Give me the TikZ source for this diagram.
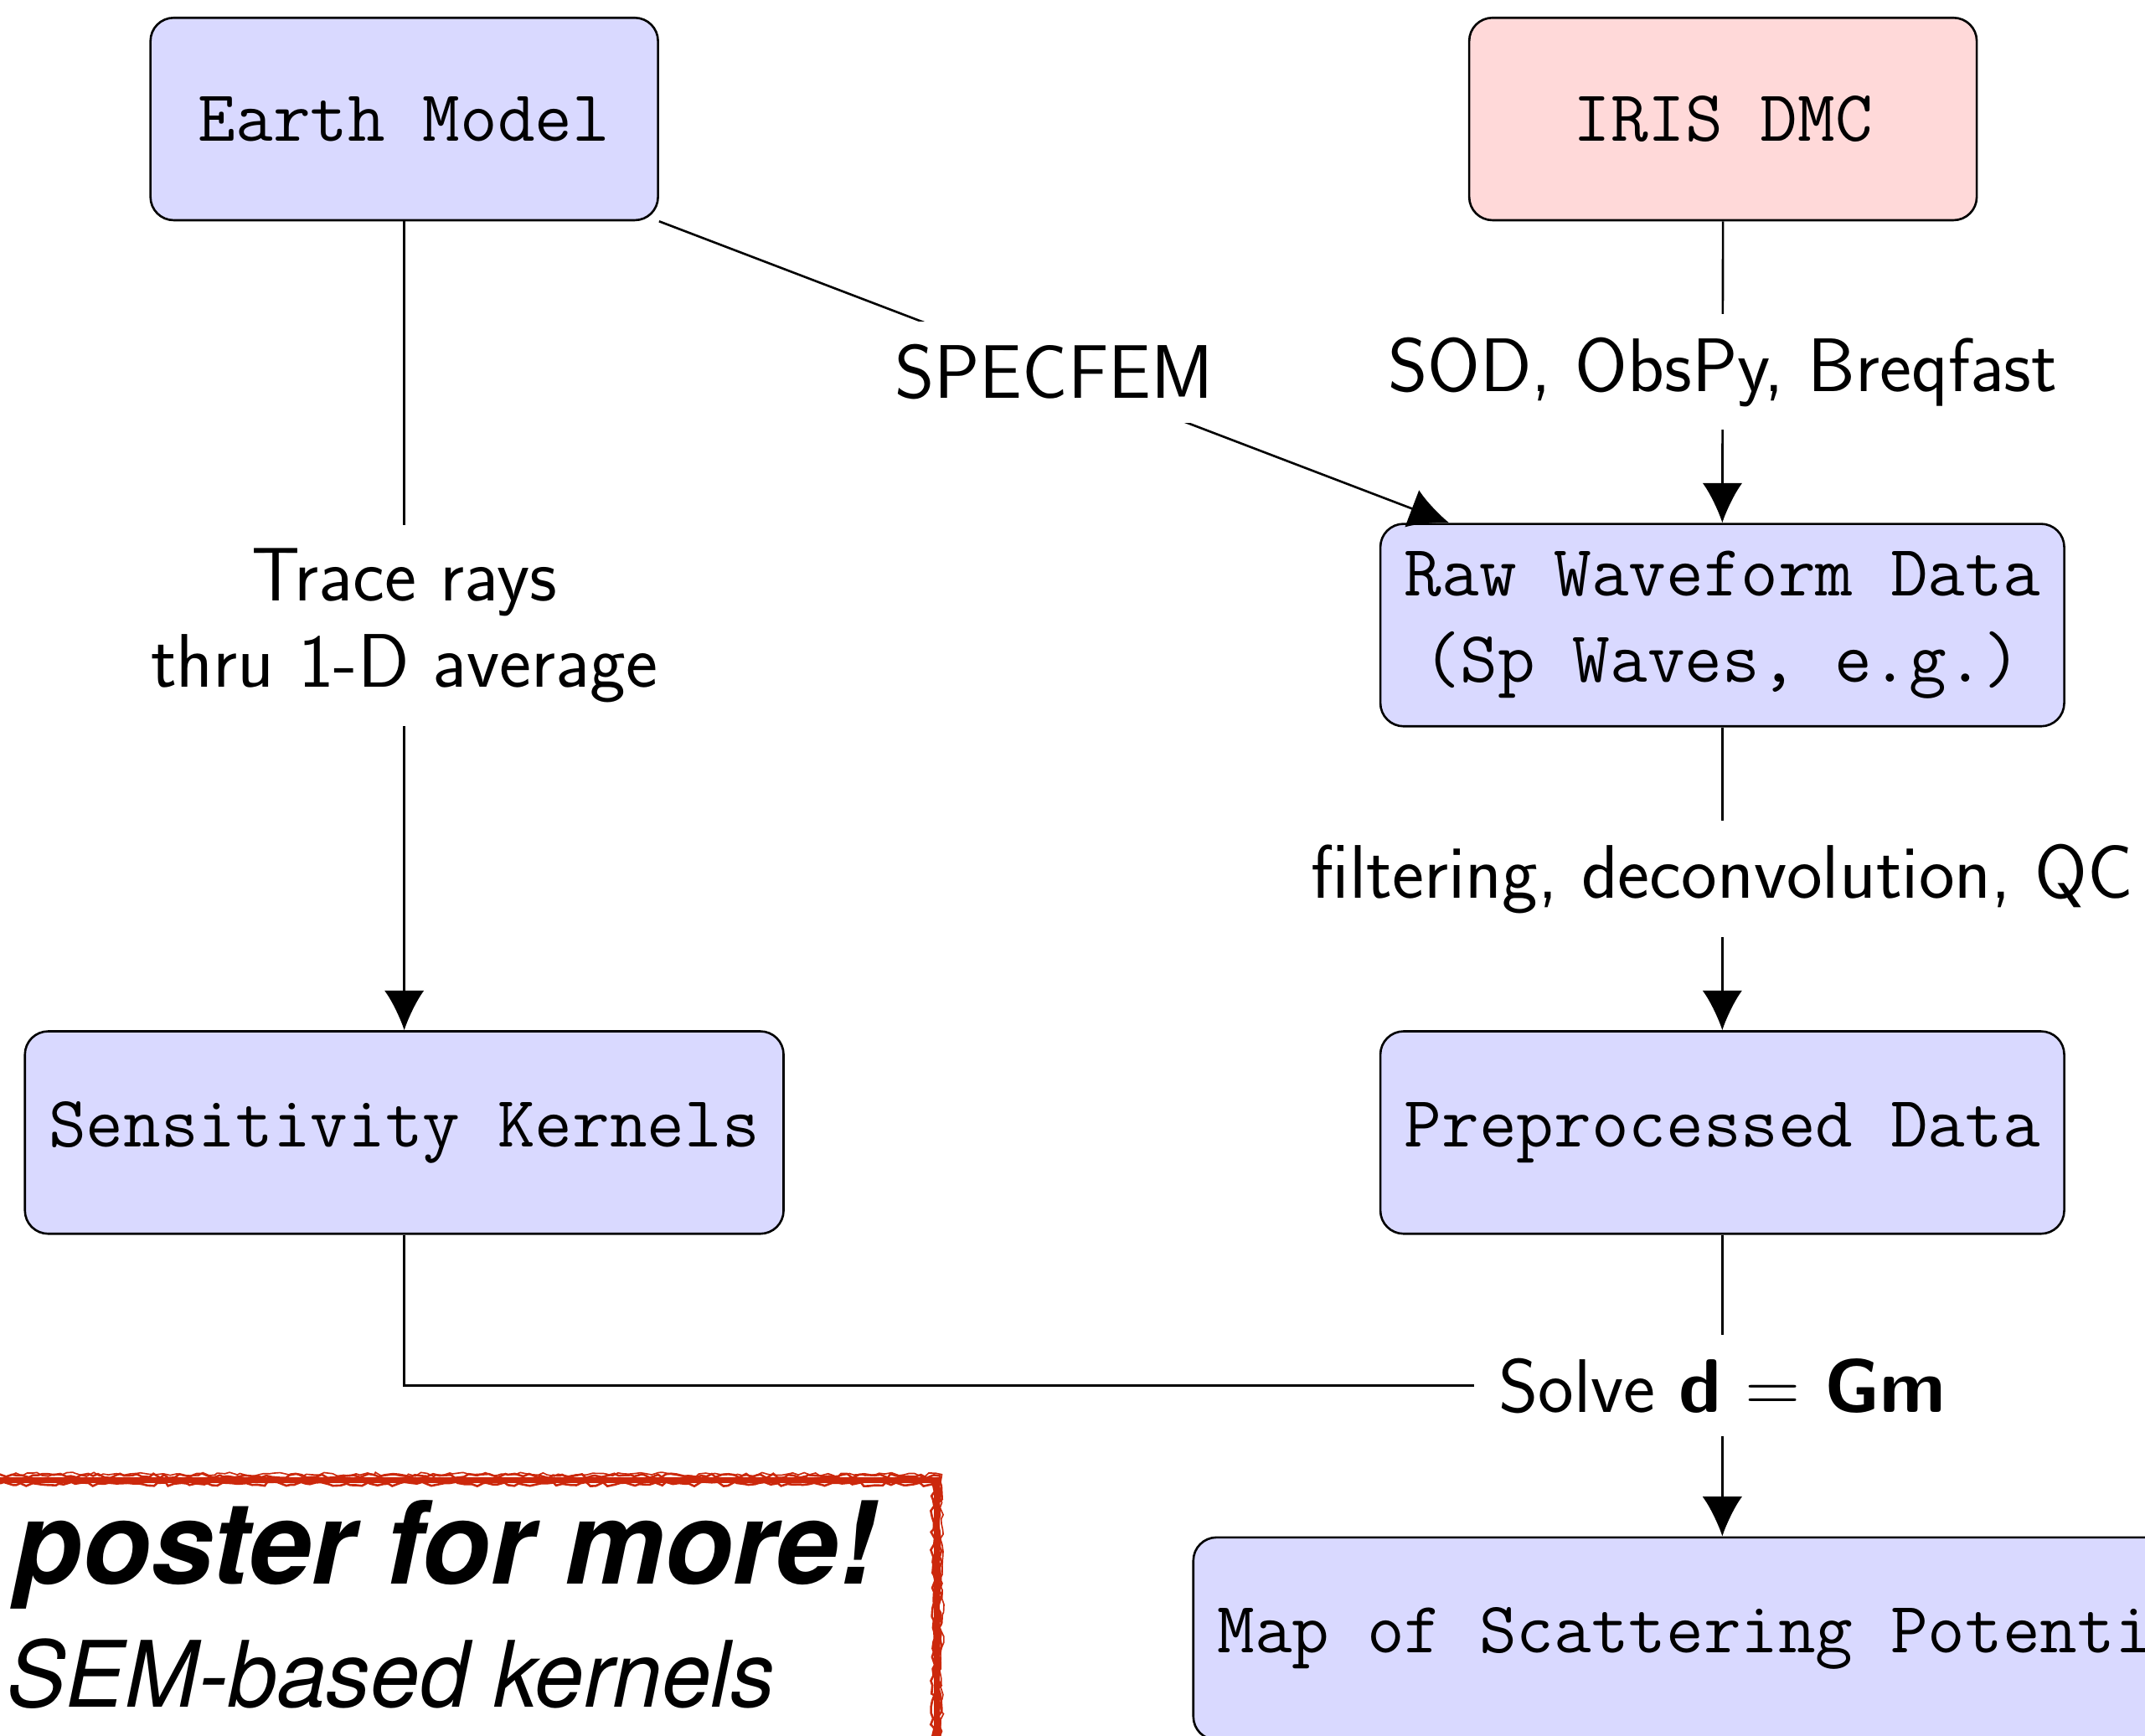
\documentclass[tikz,border=0pt]{standalone}
\usepackage{fontspec}
\newfontfamily\heros{TeX Gyre Heros}
\usetikzlibrary{arrows.meta,decorations.pathmorphing}
\definecolor{boxblue}{RGB}{217,217,255}
\definecolor{boxpink}{RGB}{255,217,217}
\definecolor{sketchred}{RGB}{204,40,12}
\tikzset{
  blk/.style={draw=black, line width=1.6pt, rounded corners=17pt, fill=boxblue,
    minimum width=371pt, minimum height=148pt, inner sep=17.5pt,
    font=\fontsize{53.1}{63}\selectfont\ttfamily, align=center},
  lbl/.style={fill=white, inner sep=17pt, font=\fontsize{55.5}{63}\selectfont\sffamily, align=center},
  conn/.style={line width=1.6pt},
  arr/.style={conn, -{Latex[length=29pt,width=29pt]}},
  sketch/.style={draw=sketchred, line width=1.6pt, decorate,
    decoration={random steps, segment length=4pt, amplitude=1.6pt}},
}
\begin{document}
\begin{tikzpicture}[x=1pt,y=-1pt]
\useasboundingbox (0,0) rectangle (1568,1269);
\clip (0,0) rectangle (1568,1269);
\pgfmathsetseed{7}
% nodes
\node[blk] (earth) at (295.5,87) {Earth Model};
\node[blk, fill=boxpink] (iris) at (1259.5,87) {IRIS DMC};
\node[blk] (raw) at (1259,457) {Raw Waveform Data\\(Sp Waves, e.g.)};
\node[blk] (pre) at (1259,828) {Preprocessed Data};
\node[blk] (sk) at (295.5,828) {Sensitivity Kernels};
\node[blk] (map) at (1259,1198) {Map of Scattering Potential};
% connectors
\draw[arr] (earth.south) -- (sk.north) node[lbl, midway] (trace) {Trace rays\\thru 1-D average};
\draw[arr] (earth.south east) -- ([xshift=51pt]raw.north west) node[lbl, midway] (specfem) {SPECFEM};
\draw[arr] (iris.south) -- (raw.north) node[lbl, midway] (sod) {SOD, ObsPy, Breqfast};
\draw[arr] (raw.south) -- (pre.north) node[lbl, midway] (filt) {filtering, deconvolution, QC};
\draw[arr] (pre.south) -- (map.north) node[lbl, midway] (solve) {Solve \textbf{d} = \textbf{Gm}};
\draw[conn] (sk.south) |- (solve.west);
% red overlay box
\draw[draw=sketchred, line width=4.5pt] (-20,1082) -- (685,1082) -- (685,1300);
\draw[sketch] (-20,1079) -- (687,1079) -- (687,1300);
\draw[sketch] (-20,1085) -- (682,1085) -- (682,1300);
\draw[sketch, line width=1pt] (-20,1078) -- (688.5,1078) -- (688.5,1300);
\node[anchor=base west, inner sep=0, xscale=0.975, transform shape, font=\heros\bfseries\itshape\fontsize{84}{90}\selectfont] (poster) at (10,1158) {poster for more!};
\node[anchor=base west, inner sep=0, xscale=0.965, transform shape, font=\heros\itshape\fontsize{67}{70}\selectfont] (sem) at (5,1248) {SEM-based kernels};
\end{tikzpicture}
\end{document}
